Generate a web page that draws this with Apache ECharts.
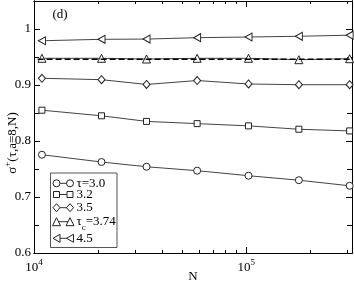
<!DOCTYPE html>
<html>
<head>
<meta charset="utf-8">
<script src="https://cdn.jsdelivr.net/npm/echarts@6/dist/echarts.min.js"></script>
<style>html,body{margin:0;padding:0;background:#fff}#c{width:354px;height:284px}</style>
</head>
<body>
<div id="c"></div>
<script>
var N = [10900, 20800, 33900, 58700, 102500, 177000, 307000];
var tau30 = [0.7755, 0.7625, 0.754, 0.747, 0.738, 0.730, 0.720];
var tau32 = [0.855, 0.845, 0.835, 0.831, 0.827, 0.821, 0.818];
var tau35 = [0.912, 0.9095, 0.901, 0.908, 0.9018, 0.9005, 0.9005];
var tau374 = [0.9477, 0.9477, 0.9464, 0.9477, 0.9477, 0.9452, 0.947];
var tau45 = [0.979, 0.9816, 0.982, 0.9845, 0.9857, 0.987, 0.989];
var dashedN = [10400, 315000];
var dashedVal = [0.946, 0.946];
var legendLabels = ['τ=3.0', '3.2', '3.5', 'τc=3.74', '4.5'];
var xMajor = [1e4, 1e5];
var xMinor = [2e4, 3e4, 4e4, 5e4, 6e4, 7e4, 8e4, 9e4, 2e5, 3e5];
var yMajor = [0.6, 0.7, 0.8, 0.9, 1.0];
var yMinor = [0.65, 0.75, 0.85, 0.95, 1.0];

var FONT = 'Liberation Serif';
var LEFT_TRI = 'path://M0,5 L10,0 L10,10 Z';
var shapes = ['circle', 'rect', 'diamond', 'triangle', LEFT_TRI];
var sizes = [7, 6, [7, 8], 8, [7, 8]];
var vals = [tau30, tau32, tau35, tau374, tau45];

function pairs(xs, ys) { return xs.map(function (x, i) { return [x, ys[i]]; }); }

var series = vals.map(function (v, k) {
  return {
    type: 'line', name: legendLabels[k], data: pairs(N, v),
    symbol: shapes[k], symbolSize: sizes[k], showAllSymbol: true,
    lineStyle: { color: '#444', width: 1 },
    itemStyle: { color: '#fff', borderColor: '#222', borderWidth: 1 },
    z: 3, animation: false
  };
});
series.push({
  type: 'line', data: pairs(dashedN, dashedVal), symbol: 'none',
  lineStyle: { color: '#000', width: 1.5, type: [6, 3] }, z: 4, animation: false
});

var xBase = { type: 'log', min: 1e4, max: 315000, gridIndex: 0, splitLine: { show: false }, axisLine: { show: true, lineStyle: { color: '#000', width: 1 } } };
function xAx(pos, ticks, len, label) {
  return Object.assign({}, xBase, {
    position: pos,
    axisTick: { show: true, inside: true, length: len, customValues: ticks, lineStyle: { color: '#000' } },
    axisLabel: label ? {
      show: true, customValues: xMajor, margin: 5,
      formatter: function (v) { return '{b|10}{s|' + Math.round(Math.log10(v)) + '}'; },
      rich: { b: { fontFamily: FONT, fontSize: 13, color: '#000', lineHeight: 16, verticalAlign: 'bottom' }, s: { fontFamily: FONT, fontSize: 9, color: '#000', verticalAlign: 'top', lineHeight: 9 } }
    } : { show: false }
  });
}
var yBase = { type: 'value', min: 0.6, max: 1.05, splitLine: { show: false }, axisLine: { show: true, lineStyle: { color: '#000', width: 1 } } };
function yAx(pos, ticks, len, label) {
  return Object.assign({}, yBase, {
    position: pos,
    axisTick: { show: true, inside: true, length: len, customValues: ticks, lineStyle: { color: '#000' } },
    axisLabel: label ? { show: true, customValues: yMajor, margin: 3, fontFamily: FONT, fontSize: 13, color: '#000' } : { show: false }
  });
}

// legend graphics
var lg = [];
var boxL = 50.5, boxT = 173, boxR = 117, boxB = 247.5;
lg.push({ type: 'rect', shape: { x: boxL, y: boxT, width: boxR - boxL, height: boxB - boxT }, style: { fill: '#fff', stroke: '#555', lineWidth: 1 }, z: 10 });
var rowY = [183.3, 194.5, 207.7, 221.7, 238.3];
function marker(k, cx, cy) {
  var st = { fill: '#fff', stroke: '#222', lineWidth: 1 };
  if (k === 0) return { type: 'circle', shape: { cx: cx, cy: cy, r: 3.5 }, style: st, z: 12 };
  if (k === 1) return { type: 'rect', shape: { x: cx - 3, y: cy - 3, width: 6, height: 6 }, style: st, z: 12 };
  if (k === 2) return { type: 'polygon', shape: { points: [[cx, cy - 4], [cx + 3.5, cy], [cx, cy + 4], [cx - 3.5, cy]] }, style: st, z: 12 };
  if (k === 3) return { type: 'polygon', shape: { points: [[cx, cy - 4], [cx + 4, cy + 4], [cx - 4, cy + 4]] }, style: st, z: 12 };
  return { type: 'polygon', shape: { points: [[cx - 3.5, cy], [cx + 3.5, cy - 4], [cx + 3.5, cy + 4]] }, style: st, z: 12 };
}
rowY.forEach(function (y, k) {
  lg.push({ type: 'line', shape: { x1: 56.5, y1: y, x2: 70, y2: y }, style: { stroke: '#333', lineWidth: 1 }, z: 11 });
  lg.push(marker(k, 56.5, y));
  lg.push(marker(k, 70, y));
  var txt = k === 3 ? '{a|τ}{sub|c}{a|=3.74}' : '{a|' + legendLabels[k] + '}';
  lg.push({ type: 'text', x: 76.5, y: y, style: { text: txt, verticalAlign: 'middle', align: 'left',
    rich: { a: { fontFamily: FONT, fontSize: 13, fill: '#000', color: '#000', lineHeight: 14 }, sub: { fontFamily: FONT, fontSize: 9, fill: '#000', color: '#000', verticalAlign: 'bottom', lineHeight: 20 } } }, z: 12 });
});
lg.push({ type: 'text', x: 60, y: 15, style: { text: '(d)', font: '13px ' + FONT, fill: '#000', align: 'center', verticalAlign: 'middle' }, z: 12 });
lg.push({ type: 'text', x: 193, y: 277, style: { text: 'N', font: '13px ' + FONT, fill: '#000', align: 'center', verticalAlign: 'middle' }, z: 12 });
lg.push({ type: 'text', x: 11, y: 143, rotation: Math.PI / 2, style: { text: '{a|σ}{s|+}{a|(τ,a=8,N)}', align: 'center', verticalAlign: 'middle',
  rich: { a: { fontFamily: FONT, fontSize: 13, fill: '#000', color: '#000', lineHeight: 16, verticalAlign: 'bottom' }, s: { fontFamily: FONT, fontSize: 9, fill: '#000', color: '#000', verticalAlign: 'top', lineHeight: 9 } } }, z: 12 });

var chart = echarts.init(document.getElementById('c'), null, { renderer: 'canvas' });
chart.setOption({
  animation: false,
  backgroundColor: '#fff',
  grid: { left: 34, right: 2, top: 1, bottom: 31, outerBoundsMode: 'none' },
  xAxis: [
    xAx('bottom', xMajor, 6, true),
    xAx('bottom', xMinor, 3, false),
    xAx('top', xMajor, 6, false),
    xAx('top', xMinor, 3, false)
  ],
  yAxis: [
    yAx('left', yMajor, 6, true),
    yAx('left', yMinor, 5, false),
    yAx('right', yMajor, 6, false),
    yAx('right', yMinor, 5, false)
  ],
  series: series,
  graphic: lg
});
</script>
</body>
</html>
